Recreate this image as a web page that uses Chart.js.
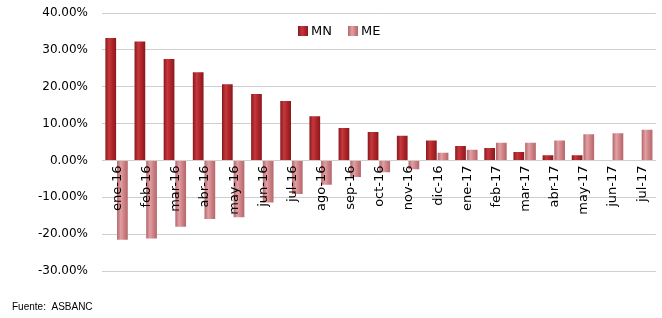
<!DOCTYPE html>
<html>
<head>
<meta charset="utf-8">
<script src="https://cdn.jsdelivr.net/npm/chart.js@4/dist/chart.umd.min.js"></script>
<style>
  html, body { margin: 0; padding: 0; background: #fff; }
  #wrap { position: relative; width: 662px; height: 318px; }
  #legend { position: absolute; top: 23px; left: 298px; font: 13px "DejaVu Sans", sans-serif; color: #000; white-space: nowrap; }
  #legend span.item { position: absolute; top: 0; line-height: 16px; }
  #legend span.box { display: inline-block; width: 10px; height: 10px; margin-right: 3px; vertical-align: -1px; }
</style>
</head>
<body>
<div id="wrap">
  <canvas id="chart" width="662" height="318"></canvas>
  <div id="legend"></div>
</div>
<script>
// data (percent)
let months = ["ene-16","feb-16","mar-16","abr-16","may-16","jun-16","jul-16","ago-16","sep-16","oct-16","nov-16","dic-16","ene-17","feb-17","mar-17","abr-17","may-17","jun-17","jul-17"];
let mn = [33.2, 32.3, 27.5, 23.9, 20.7, 18.0, 16.1, 12.0, 8.8, 7.7, 6.7, 5.4, 3.9, 3.4, 2.3, 1.4, 1.4, 0.15, 0.15];
let me = [-21.5, -21.2, -18.0, -15.9, -15.4, -11.4, -9.1, -6.6, -4.5, -3.2, -2.4, 2.1, 2.9, 4.8, 4.8, 5.4, 7.1, 7.4, 8.3];
let yTicks = [-30, -20, -10, 0, 10, 20, 30, 40];

let catPct = 0.8;
let barPct = 0.92;

// colors: edge, center, body
let mnCols = ["#8a181c", "#c4393d", "#b3272b"];
let meCols = ["#b4666b", "#e0a0a4", "#d2868a"];

// horizontal bevel gradient, one per bar
function bevel(cols, side) {
  return function (c) {
    let chart = c.chart;
    let x = chart.scales.x;
    if (!x || c.dataIndex === undefined) return cols[2];
    let w = x.width / months.length;
    let slot = w * catPct / 2;
    let bw = slot * barPct;
    let cx = x.getPixelForValue(c.dataIndex) + side * slot / 2;
    if (!isFinite(cx) || !isFinite(bw) || bw <= 0) return cols[2];
    let g = chart.ctx.createLinearGradient(cx - bw / 2, 0, cx + bw / 2, 0);
    g.addColorStop(0, cols[0]);
    g.addColorStop(0.35, cols[1]);
    g.addColorStop(0.6, cols[2]);
    g.addColorStop(1, cols[0]);
    return g;
  };
}

let ctx = document.getElementById("chart").getContext("2d");

let chart = new Chart(ctx, {
  type: "bar",
  data: {
    labels: months,
    datasets: [
      { label: "MN", data: mn, backgroundColor: bevel(mnCols, -1), categoryPercentage: catPct, barPercentage: barPct },
      { label: "ME", data: me, backgroundColor: bevel(meCols, 1), categoryPercentage: catPct, barPercentage: barPct }
    ]
  },
  options: {
    responsive: false,
    animation: false,
    layout: { padding: { left: 12, top: 13, right: 6, bottom: 3 } },
    scales: {
      x: {
        position: { y: 0 },
        grid: { display: false, drawTicks: false },
        border: { display: false },
        ticks: {
          z: 1, // month labels sit on top of the bars
          autoSkip: false,
          maxRotation: 90,
          minRotation: 90,
          padding: 5,
          labelOffset: 1,
          color: "#000",
          font: { family: "DejaVu Sans", size: 13 }
        }
      },
      y: {
        min: -30,
        max: 40,
        afterFit(s) {
          s.width = 90;
          // tick padding should not push the plot down
          s.paddingTop = 7;
          s.paddingBottom = 7;
        },
        afterBuildTicks(s) { s.ticks = yTicks.map(v => ({ value: v })); },
        grid: { color: "#cfcfcf", lineWidth: 1, drawTicks: false },
        border: { display: false },
        ticks: {
          padding: 14,
          color: "#000",
          font: { family: "DejaVu Sans", size: 12 },
          callback: v => v.toFixed(2) + "%"
        }
      }
    },
    plugins: {
      legend: { display: false },
      title: {
        display: true,
        text: "Fuente:  ASBANC",
        position: "bottom",
        align: "start",
        color: "#000",
        padding: { top: 30, bottom: 2 },
        font: { family: "'Liberation Sans Narrow', 'Liberation Sans', Arial", size: 10, weight: "normal" }
      },
      tooltip: { enabled: false }
    }
  }
});

// legend, built from the datasets
let legend = document.getElementById("legend");
let lx = [0, 50];
chart.data.datasets.forEach((ds, i) => {
  let cols = i === 0 ? mnCols : meCols;
  let item = document.createElement("span");
  item.className = "item";
  item.style.left = lx[i] + "px";
  let box = document.createElement("span");
  box.className = "box";
  box.style.background = "linear-gradient(90deg," + cols[0] + "," + cols[1] + " 40%," + cols[2] + " 65%," + cols[0] + ")";
  item.appendChild(box);
  item.appendChild(document.createTextNode(ds.label));
  legend.appendChild(item);
});
</script>
</body>
</html>
